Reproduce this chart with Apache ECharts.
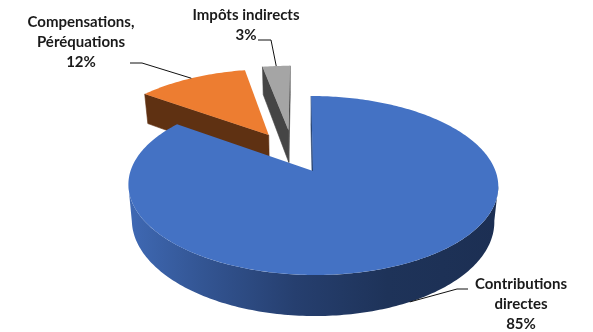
<!DOCTYPE html>
<html>
<head>
<meta charset="utf-8">
<style>html,body{margin:0;padding:0;background:#fff}#chart{width:593px;height:332px}</style>
<script src="https://cdn.jsdelivr.net/npm/echarts@6/dist/echarts.min.js"></script>
</head>
<body>
<div id="chart"></div>
<script>
// Budget shares, clockwise from twelve o'clock
const categories = ['Contributions\ndirectes', 'Compensations,\nPéréquations', 'Impôts indirects'];
const shares = [85, 12, 3];
const topColors = ['#4472C4', '#ED7D31', '#A5A5A5'];
const sideColors = ['#24406F', '#5F3112', '#454545'];

// Pulled-out slices: distance from the pie centre and direction, in unit-disc terms
const explodeDistance = [0, 0.51, 0.52];
const explodeAngle = [0, 330, 344.5];
// Label block centres
const labelX = [521, 81, 246];
const labelY = [304, 42, 25];
// Horizontal stub of each leader line, nearest point first then the label end
const leaderStub = [[457, 468], [142, 130], [271, 258]];
const leaderY = [289, 63, 40];

// Perspective disc: u is right, v is towards the viewer, z goes down the thickness
const view = { vx: 300, x0: 13, y0: 171, R: 182.5, Rk: 87.15, persist: 0.162, H: 34.4, taper: 0.02 };

function project(u, v, z) {
  const s = 1 / (1 - view.persist * v);
  return [
    view.vx + (view.x0 + view.R * u) * s * (1 - view.taper * z),
    view.y0 + (view.Rk * v + view.H * z) * s
  ];
}
const rad = d => d * Math.PI / 180;

function signedArea(pts) {
  let a = 0;
  pts.forEach((p, i) => {
    const q = pts[(i + 1) % pts.length];
    a += p[0] * q[1] - q[0] * p[1];
  });
  return a;
}

function renderSlice(params, api) {
  const i = params.dataIndex;
  const total = shares.reduce((a, b) => a + b, 0);
  const before = shares.slice(0, i).reduce((a, b) => a + b, 0);
  const start = before / total * 360;
  const end = (before + api.value(0)) / total * 360;
  const ou = explodeDistance[i] * Math.sin(rad(explodeAngle[i]));
  const ov = -explodeDistance[i] * Math.cos(rad(explodeAngle[i]));
  const rim = (deg, z) => project(ou + Math.sin(rad(deg)), ov - Math.cos(rad(deg)), z);
  const apex = z => project(ou, ov, z);
  const layer = (3 - i) * 10;
  const children = [];

  // Straight cut faces, kept only when they turn towards the viewer
  [[start, -1], [end, 1]].forEach(([deg, sign]) => {
    const quad = [apex(0), rim(deg, 0), rim(deg, 1), apex(1)];
    if (signedArea(quad) * sign > 0) {
      children.push({
        type: 'polygon', z2: layer + 1, shape: { points: quad },
        style: { fill: sideColors[i], stroke: sideColors[i], lineWidth: 0.6 }
      });
    }
  });

  // Outer rim between the two silhouette points of the perspective ellipse
  const tangent = Math.acos(view.persist) * 180 / Math.PI;
  const from = Math.max(start, 90 + (90 - tangent)), to = Math.min(end, 270 - (90 - tangent));
  if (from < to) {
    const upper = [], lower = [];
    for (let a = from; a <= to; a += 1) {
      upper.push(rim(a, 0));
      lower.unshift(rim(a, 1));
    }
    children.push({
      type: 'polygon', z2: layer + 2, shape: { points: upper.concat(lower) },
      style: {
        fill: new echarts.graphic.LinearGradient(1, 0, 0, 0, [
          { offset: 0, color: '#1C2F53' },
          { offset: 0.3, color: '#1E3359' },
          { offset: 0.55, color: '#263F6F' },
          { offset: 0.8, color: '#335593' },
          { offset: 1, color: '#3F69B4' }
        ])
      }
    });
  }

  // Top face
  const face = [apex(0)];
  for (let a = start; a < end; a += 1) face.push(rim(a, 0));
  face.push(rim(end, 0));
  children.push({
    type: 'polygon', z2: layer + 3, shape: { points: face },
    style: { fill: topColors[i] }
  });

  // Leader line from the rim at mid-slice; only the near slice anchors on the lower edge
  const mid = (start + end) / 2;
  const anchor = rim(mid, mid > 90 && mid < 270 ? 1 : 0);
  children.push({
    type: 'polyline', z2: 60,
    shape: { points: [anchor, [leaderStub[i][0], leaderY[i]], [leaderStub[i][1], leaderY[i]]] },
    style: { fill: null, stroke: '#111', lineWidth: 1 }
  });

  children.push({
    type: 'text', z2: 70, x: labelX[i], y: labelY[i],
    style: {
      text: categories[i] + '\n' + api.value(0) + '%',
      fontFamily: 'Lato, "Open Sans", sans-serif',
      fontWeight: 'bold',
      fontSize: 15,
      lineHeight: 20,
      fill: '#1A1A1A',
      align: 'center',
      verticalAlign: 'middle'
    }
  });

  return { type: 'group', children };
}

const chart = echarts.init(document.getElementById('chart'), null, { renderer: 'canvas' });
chart.setOption({
  animation: false,
  backgroundColor: '#fff',
  series: [{
    type: 'custom',
    coordinateSystem: 'none',
    renderItem: renderSlice,
    data: shares.map(v => [v]),
    silent: true
  }]
});
</script>
</body>
</html>
